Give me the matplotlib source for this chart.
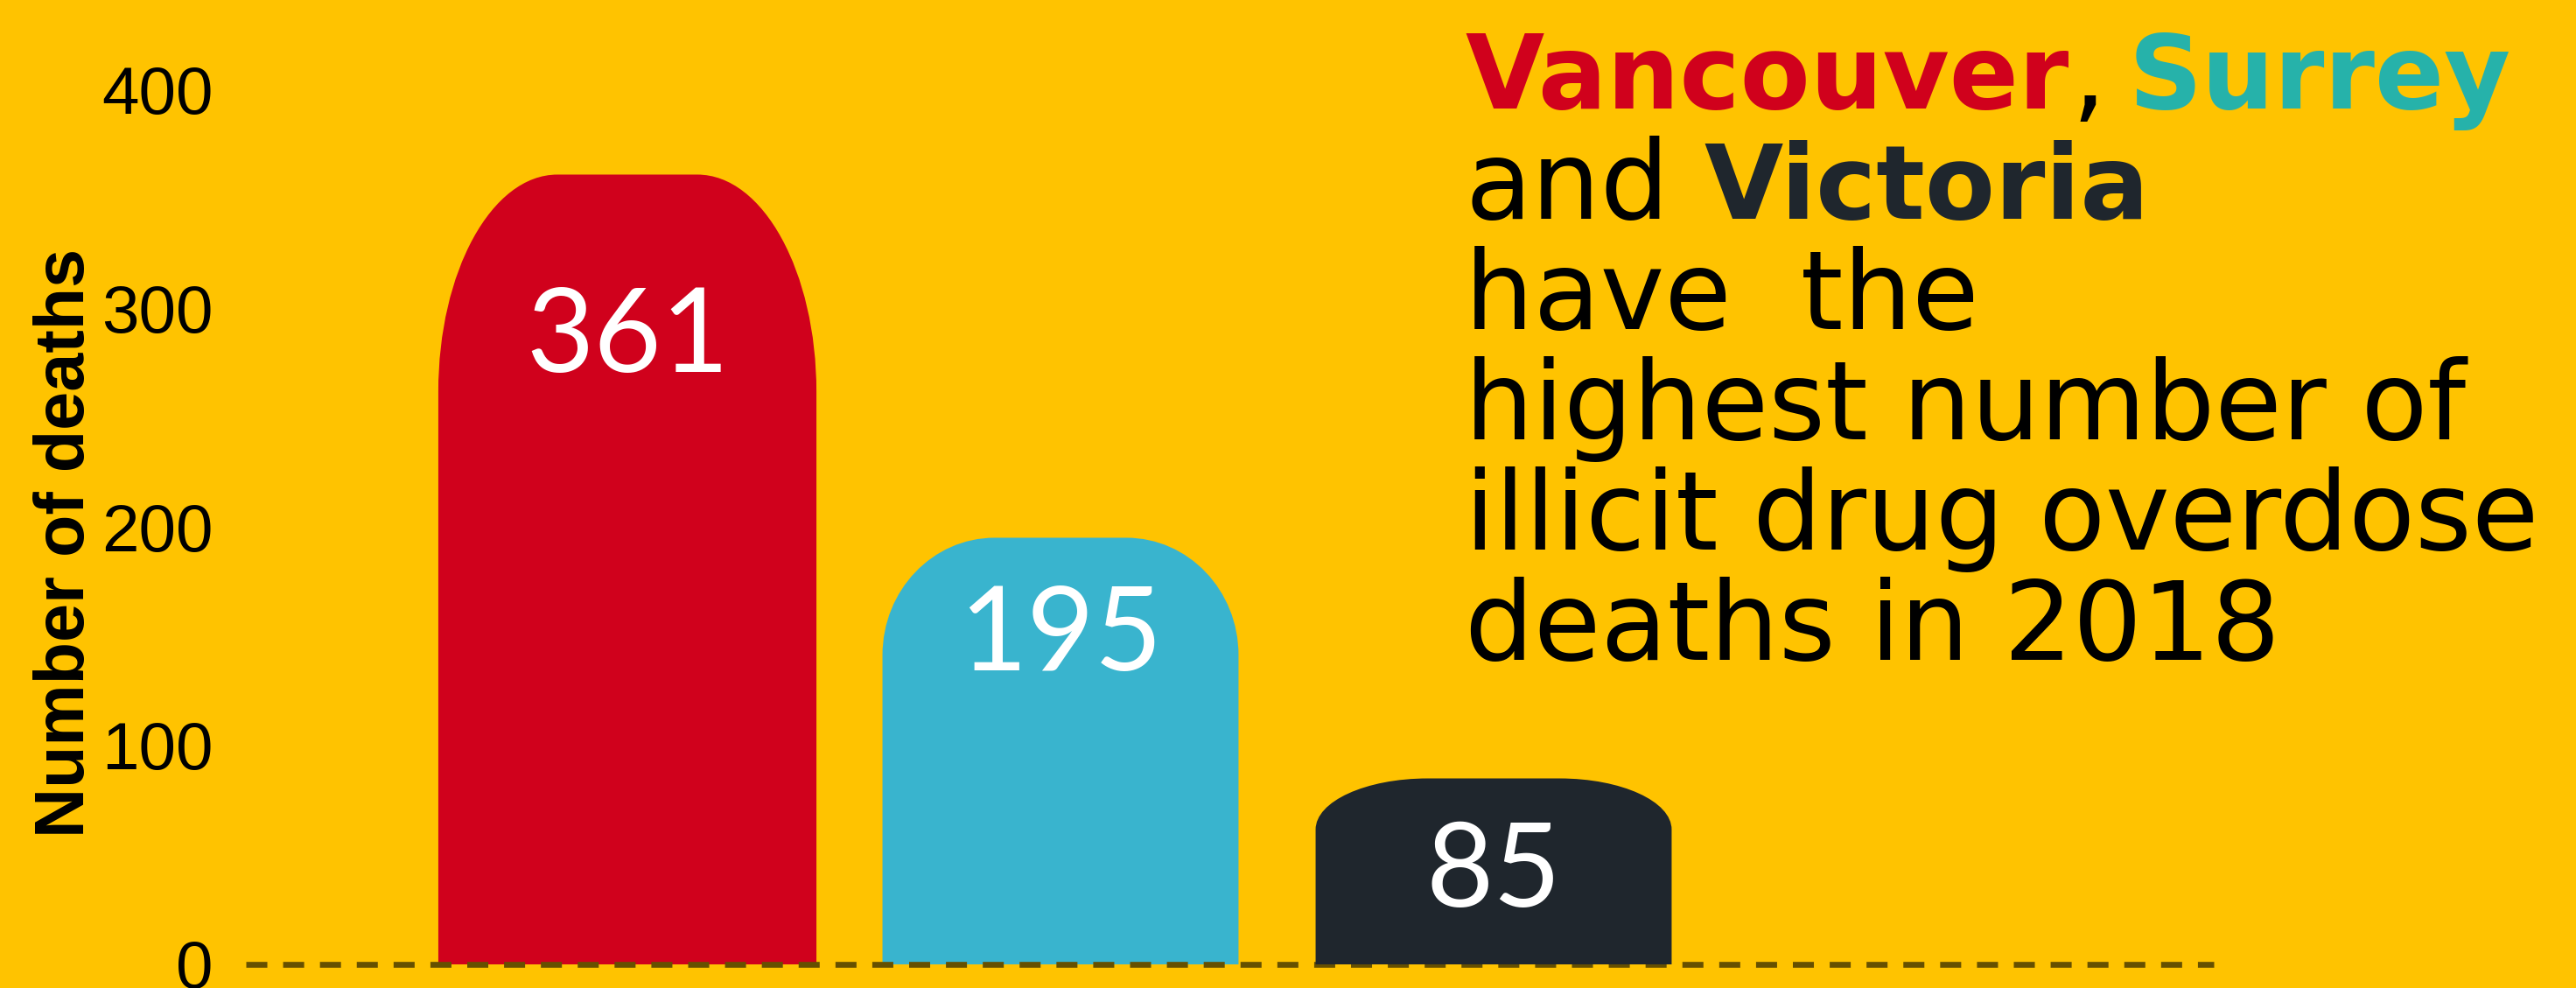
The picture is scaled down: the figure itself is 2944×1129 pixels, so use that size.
import matplotlib
matplotlib.use("Agg")
import matplotlib.pyplot as plt
from matplotlib.path import Path
from matplotlib.patches import PathPatch

# ---- data -------------------------------------------------------------
cities = ["Vancouver", "Surrey", "Victoria"]
deaths = [361, 195, 85]
yticks = [0, 100, 200, 300, 400]

# ---- styling ----------------------------------------------------------
BG = "#FFC300"
RED = "#D0011C"
TEAL_BAR = "#39B4CE"
TEAL_TXT = "#26B2AA"
DARK = "#1F262D"
BLACK = "#000000"

bar_colors = [RED, TEAL_BAR, DARK]
bar_widths = [0.873, 0.822, 0.822]      # in category units
corner_rx = [0.275, 0.259, 0.259]       # horizontal corner radius, category units
corner_ry_frac = 0.275                  # vertical corner radius, share of bar height
label_frac = [0.75, 0.69, 0.31]         # label baseline, share of bar value
bar_z = [1, 1, 3]

W, H = 2944, 1129
fig = plt.figure(figsize=(W / 100, H / 100), dpi=100, facecolor=BG)

left_px = 281
ax = fig.add_axes([left_px / W, 0, 1 - left_px / W, 1])
ax.set_facecolor(BG)

step_px = 495.0       # pixels between category centres
first_px = 717.0      # pixel of first category centre
ax.set_xlim((left_px - first_px) / step_px, (W - first_px) / step_px)
px_per_unit = 2.5
base_px = 27
ax.set_ylim(-base_px / px_per_unit, (H - base_px) / px_per_unit)


def rounded_bar(xc, width, height, rx, ry):
    k = 0.5523
    x0, x1 = xc - width / 2, xc + width / 2
    verts = [
        (x0, 0), (x0, height - ry),
        (x0, height - ry + k * ry), (x0 + rx - k * rx, height), (x0 + rx, height),
        (x1 - rx, height),
        (x1 - rx + k * rx, height), (x1, height - ry + k * ry), (x1, height - ry),
        (x1, 0), (x0, 0),
    ]
    codes = [Path.MOVETO, Path.LINETO,
             Path.CURVE4, Path.CURVE4, Path.CURVE4,
             Path.LINETO,
             Path.CURVE4, Path.CURVE4, Path.CURVE4,
             Path.LINETO, Path.CLOSEPOLY]
    return Path(verts, codes)


for i, (val, col) in enumerate(zip(deaths, bar_colors)):
    path = rounded_bar(i, bar_widths[i], val, corner_rx[i], corner_ry_frac * val)
    ax.add_patch(PathPatch(path, facecolor=col, edgecolor="none", zorder=bar_z[i]))
    ax.text(i, val * label_frac[i], f"{val}", ha="center", va="baseline",
            color="white", fontsize=96, family="Lato", zorder=5)

# dashed zero line
plt.rcParams["lines.scale_dashes"] = False
x_start = ax.get_xlim()[0]
ax.hlines(0, x_start, 3.663, colors="#665000", linewidth=4.8,
          linestyles=(0, (17.3, 13.0)), zorder=2)

# y axis
ax.set_yticks(yticks)
ax.set_yticklabels([str(t) for t in yticks])
ax.set_xticks([])
ax.tick_params(axis="y", length=0, pad=27, labelsize=55, labelcolor=BLACK)
for lbl in ax.get_yticklabels():
    lbl.set_fontfamily("Liberation Sans")
for sp in ax.spines.values():
    sp.set_visible(False)

fig.text(76 / W, 1 - 620 / H, "Number of deaths", rotation=90, ha="center",
         va="center", fontsize=57, fontweight="bold", family="Liberation Sans",
         color=BLACK)

# headline block, built piece by piece so each word can carry its own colour
headline = [
    [("Vancouver", RED, "bold", 0), (",", BLACK, "normal", 3),
     ("Surrey", TEAL_TXT, "bold", 26)],
    [("and", BLACK, "normal", 0), ("Victoria", DARK, "bold", 40)],
    [("have  the", BLACK, "normal", 0)],
    [("highest number of", BLACK, "normal", 0)],
    [("illicit drug overdose", BLACK, "normal", 0)],
    [("deaths in 2018", BLACK, "normal", 0)],
]
size_for = {"bold": 84, "normal": 89.5}
first_baseline = 124
line_step = 126
text_left = 1674
renderer = fig.canvas.get_renderer()
for li, pieces in enumerate(headline):
    y = 1 - (first_baseline + li * line_step) / H
    x_px = text_left
    for txt, col, weight, gap in pieces:
        x_px += gap
        t = fig.text(x_px / W, y, txt, ha="left", va="baseline", color=col,
                     fontsize=size_for[weight], fontweight=weight,
                     family="DejaVu Sans")
        bb = t.get_window_extent(renderer)
        x_px = bb.x1

fig.savefig("out.png", dpi=100, facecolor=BG)
